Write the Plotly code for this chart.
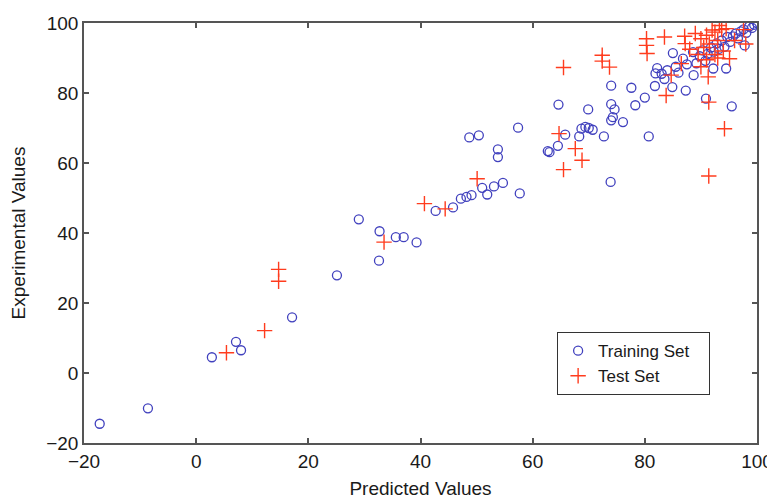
import plotly.graph_objects as go

train_x = [-17.2, -8.6, 2.8, 7.1, 8.0, 17.1, 25.1, 29.0, 32.6, 32.7, 35.6, 37.0, 39.3, 42.7, 45.8,
           47.2, 48.2, 49.1, 51.0, 51.9, 53.1, 54.7, 57.7,
           48.7, 50.4, 53.8, 53.8, 57.4,
           62.7, 63.0, 64.5, 65.8, 68.3, 68.7, 69.4, 70.0, 70.7, 72.7,
           73.9, 64.6, 69.9, 74.0, 74.6, 74.3, 74.0, 76.1, 74.0,
           77.6, 78.3, 80.0, 80.7, 81.8, 84.9, 87.3, 90.9, 95.5,
           82.2, 83.0, 84.0, 85.0, 85.5, 86.8, 87.5, 88.6, 88.7, 89.2, 89.8, 90.3, 90.8, 91.2,
           91.8, 92.2, 92.3, 92.8, 93.2, 93.7, 94.2, 94.5, 94.7, 95.2, 95.7, 96.2, 96.6, 97.1,
           97.6, 97.8, 98.1, 98.6, 99.1, 99.5, 100.0, 81.9, 83.5, 86.0]
train_y = [-14.5, -10.1, 4.5, 8.9, 6.5, 15.9, 27.9, 43.9, 32.1, 40.5, 38.8, 38.8, 37.3, 46.3, 47.3,
           49.8, 50.3, 50.8, 52.9, 51.0, 53.3, 54.3, 51.3,
           67.3, 67.9, 63.9, 61.7, 70.1,
           63.4, 63.1, 64.9, 68.1, 67.6, 69.8, 70.3, 70.0, 69.5, 67.6,
           54.6, 76.7, 75.3, 76.8, 75.3, 73.1, 72.2, 71.7, 82.1,
           81.5, 76.5, 78.7, 67.6, 82.0, 81.7, 80.7, 78.4, 76.2,
           87.1, 85.5, 86.5, 91.4, 87.5, 89.8, 88.2, 91.7, 85.1, 88.5, 90.5, 92.2, 89.2, 91.2,
           93.0, 87.0, 91.8, 94.2, 92.6, 95.0, 93.2, 87.0, 96.0, 94.6, 96.2, 97.0, 95.6, 97.6,
           98.2, 93.6, 97.2, 99.0, 98.6, 99.5, 100.0, 85.6, 84.0, 85.8]

test_x = [5.4, 12.2, 14.7, 14.7, 33.5, 40.7, 44.4, 50.1, 64.7, 67.6, 68.8, 65.5, 65.5,
          72.4, 72.4, 73.7, 80.3, 80.3, 80.4, 83.5, 87.1, 87.2, 83.8, 91.4, 94.2, 91.4,
          84.7, 86.5, 91.3, 95.1, 97.6, 93.3, 93.7, 94.5, 92.5, 89.0, 90.0, 90.5, 91.0,
          91.5, 92.0, 93.0, 94.0, 92.5, 91.0, 89.5, 88.0, 90.0, 93.0, 96.0, 98.0]
test_y = [5.8, 12.1, 29.6, 26.2, 37.4, 48.4, 46.9, 55.5, 68.4, 64.1, 60.8, 58.1, 87.3,
          90.8, 89.1, 87.4, 95.5, 93.6, 91.3, 96.0, 96.2, 94.1, 79.3, 77.4, 69.8, 56.3,
          85.1, 88.4, 84.6, 89.8, 98.1, 99.3, 98.1, 98.4, 97.4, 97.0, 95.5, 93.0, 96.5,
          94.0, 98.0, 95.0, 92.0, 91.0, 89.5, 91.0, 92.5, 87.5, 90.0, 95.0, 94.0]

tick_vals = [-20, 0, 20, 40, 60, 80, 100]
tick_text = ["\u221220", "0", "20", "40", "60", "80", "100"]

FONT = "Liberation Sans, Arial, Helvetica, sans-serif"
BLUE = "rgb(65,65,190)"
RED = "rgb(255,60,30)"
TXT = "#1a1a1a"
PAD = "\u00a0\u00a0\u00a0"

fig = go.Figure()
fig.add_trace(go.Scatter(
    x=train_x, y=train_y, mode="markers", name="Training Set" + PAD,
    marker=dict(symbol="circle-open", size=9, color=BLUE, line=dict(width=1.3, color=BLUE)),
))
fig.add_trace(go.Scatter(
    x=test_x, y=test_y, mode="markers", name="Test Set",
    marker=dict(symbol="cross-thin-open", size=11, color=RED, line=dict(width=1.4, color=RED)),
))

axis_common = dict(
    showgrid=False, zeroline=False, showline=True, mirror="ticks", automargin=False,
    linecolor="#555555", linewidth=1.5, ticks="inside", ticklen=5, tickwidth=1.5,
    tickcolor="#555555", tickvals=tick_vals, ticktext=tick_text,
    tickfont=dict(family=FONT, size=19, color=TXT),
)

# page body has an 8px margin, so the figure is sized/offset to compensate
fig.update_layout(
    width=767, height=491,
    margin=dict(l=76, r=18, t=15, b=56),
    paper_bgcolor="white", plot_bgcolor="white",
    font=dict(family=FONT, size=19, color=TXT),
    xaxis=dict(range=[-20, 100], title=dict(text="Predicted Values", standoff=12,
               font=dict(family=FONT, size=19, color=TXT)), **axis_common),
    yaxis=dict(range=[-20, 100], title=dict(text="Experimental Values", standoff=17,
               font=dict(family=FONT, size=19, color=TXT)), **axis_common),
    legend=dict(x=0.703, y=0.264, xanchor="left", yanchor="top",
                bgcolor="white", bordercolor="#333333", borderwidth=1,
                font=dict(family=FONT, size=17, color=TXT),
                tracegroupgap=0, itemwidth=30),
    showlegend=True,
)

fig.write_html("out.html")
